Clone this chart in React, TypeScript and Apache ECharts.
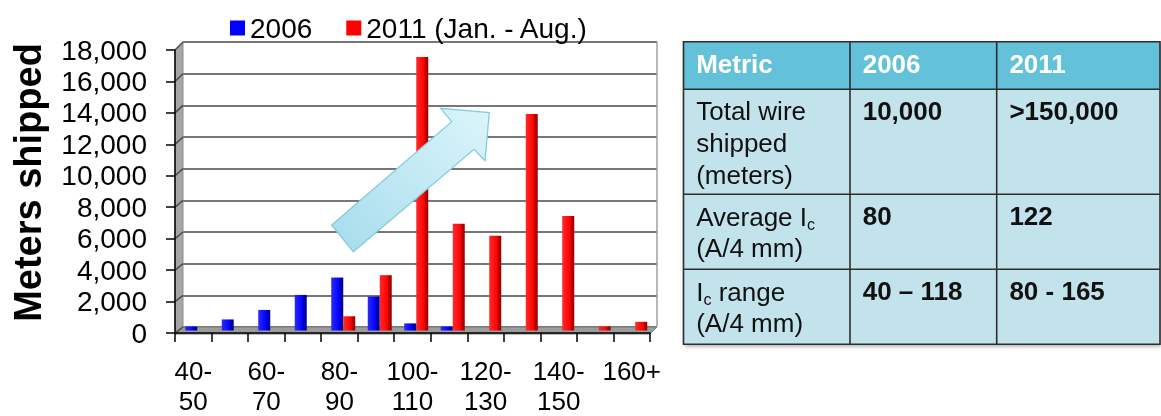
import React, { useEffect, useRef } from "react";
import * as echarts from "echarts";

const categories = ["40-50", "50-60", "60-70", "70-80", "80-90", "90-100", "100-110", "110-120", "120-130", "130-140", "140-150", "150-160", "160+"];
const series2006 = [250, 700, 1300, 2250, 3350, 2150, 450, 250, 0, 0, 0, 0, 0];
const series2011 = [0, 0, 0, 0, 900, 3500, 17300, 6750, 6000, 13700, 7250, 250, 550];
const seriesNames = ["2006", "2011 (Jan. - Aug.)"];
const yMin = 0;
const yMax = 18000;
const yInterval = 2000;
const yAxisTitle = "Meters shipped";

const tableHeader = ["Metric", "2006", "2011"];
const tableRowLabels = ["Total wire\nshipped\n(meters)", "Average I{sub|c}\n(A/4 mm)", "I{sub|c} range\n(A/4 mm)"];
const table2006 = ["10,000", "80", "40 \u2013 118"];
const table2011 = [">150,000", "122", "80 - 165"];

const FONT = "'Liberation Sans', Arial, Helvetica, sans-serif";

function barGradient(light: string, main: string, side: string, dark: string) {
  return new echarts.graphic.LinearGradient(0, 0, 1, 0, [
    { offset: 0, color: light },
    { offset: 0.68, color: main },
    { offset: 0.7, color: side },
    { offset: 1, color: dark },
  ]);
}

export default function App() {
  const ref = useRef<HTMLDivElement>(null);

  useEffect(() => {
    const chart = echarts.init(ref.current!, null, { renderer: "svg" });

    const option: any = {
      animation: false,
      textStyle: { fontFamily: FONT },
      legend: {
        data: [
          { name: seriesNames[0], itemStyle: { color: "#0000ff" } },
          { name: seriesNames[1], itemStyle: { color: "#ff0000" } },
        ],
        left: 225,
        top: 9,
        icon: "rect",
        itemWidth: 15,
        itemHeight: 15,
        itemGap: 34,
        selectedMode: false,
        textStyle: { fontSize: 28, color: "#000", fontFamily: FONT },
      },
      grid: [
        { left: 183, top: 42, width: 474, height: 285 },
        { left: 179, top: 46, width: 474.5, height: 284.5 },
        { left: 175, top: 50, width: 475, height: 284 },
      ],
      xAxis: [
        { gridIndex: 0, type: "category", data: categories, show: false },
        { gridIndex: 1, type: "category", data: categories, show: false },
        {
          gridIndex: 2,
          type: "category",
          data: categories,
          z: 5,
          axisLine: { lineStyle: { color: "#000", width: 1.5 } },
          axisTick: { show: true, interval: 0, length: 9, lineStyle: { color: "#000", width: 1.5 } },
          axisLabel: {
            interval: 1,
            margin: 23,
            fontSize: 26,
            lineHeight: 30,
            color: "#000",
            fontFamily: FONT,
            formatter: (v: string) => v.replace("-", "-\n"),
          },
        },
      ],
      yAxis: [
        {
          gridIndex: 0,
          type: "value",
          min: yMin,
          max: yMax,
          interval: yInterval,
          axisLabel: { show: false },
          axisLine: { show: false },
          axisTick: { show: false },
          splitLine: { show: true, lineStyle: { color: "#4a4a4a", width: 1.5 } },
        },
        { gridIndex: 1, type: "value", min: yMin, max: yMax, interval: yInterval, show: false, splitLine: { show: false } },
        {
          gridIndex: 2,
          type: "value",
          min: yMin,
          max: yMax,
          interval: yInterval,
          z: 5,
          splitLine: { show: false },
          axisLine: { show: true, lineStyle: { color: "#000", width: 1.5 } },
          axisTick: { show: true, length: 9, lineStyle: { color: "#000", width: 1.5 } },
          axisLabel: {
            margin: 28,
            fontSize: 28,
            color: "#000",
            fontFamily: FONT,
            formatter: (v: number) => v.toLocaleString("en-US"),
          },
        },
      ],
      series: [
        {
          name: seriesNames[0],
          type: "bar",
          xAxisIndex: 1,
          yAxisIndex: 1,
          data: series2006,
          barWidth: 12,
          barGap: "0%",
          z: 3,
          itemStyle: { color: barGradient("#2a2aff", "#0000ff", "#0000c0", "#000090") },
        },
        {
          name: seriesNames[1],
          type: "bar",
          xAxisIndex: 1,
          yAxisIndex: 1,
          data: series2011,
          barWidth: 12,
          barGap: "0%",
          z: 3,
          itemStyle: { color: barGradient("#ff2a2a", "#ff0000", "#c80000", "#9a0000") },
        },
      ],
    };

    chart.setOption(option);

    const ticks: number[] = [];
    for (let v = yMin; v <= yMax; v += yInterval) ticks.push(v);
    const wallLines = ticks.map((v) => {
      const yb = chart.convertToPixel({ yAxisIndex: 0 } as any, v) as unknown as number;
      const yf = chart.convertToPixel({ yAxisIndex: 2 } as any, v) as unknown as number;
      return {
        type: "line",
        z: 2,
        shape: { x1: 175, y1: yf, x2: 183, y2: yb },
        style: { stroke: "#4a4a4a", lineWidth: 1.5 },
      };
    });

    // table geometry
    const tx = [683.5, 850, 996.7, 1160];
    const ty = [41.7, 89.3, 194.3, 269.3, 344.3];
    const lineCol = "#2e2e2e";
    const tableEls: any[] = [
      {
        type: "rect",
        z: 10,
        shape: { x: tx[0], y: ty[0], width: tx[3] - tx[0], height: ty[4] - ty[0] },
        style: { fill: "#c2e3ec", shadowBlur: 4, shadowColor: "rgba(0,0,0,0.35)", shadowOffsetX: 1, shadowOffsetY: 2 },
      },
      {
        type: "rect",
        z: 10,
        shape: { x: tx[0], y: ty[0], width: tx[3] - tx[0], height: ty[1] - ty[0] },
        style: { fill: "#63c1da" },
      },
    ];
    [ty[1], ty[2], ty[3]].forEach((y) =>
      tableEls.push({ type: "line", z: 11, shape: { x1: tx[0], y1: y, x2: tx[3], y2: y }, style: { stroke: lineCol, lineWidth: 1.6 } })
    );
    [tx[1], tx[2]].forEach((x) =>
      tableEls.push({ type: "line", z: 11, shape: { x1: x, y1: ty[0], x2: x, y2: ty[4] }, style: { stroke: lineCol, lineWidth: 1.6 } })
    );
    tableEls.push({
      type: "rect",
      z: 11,
      shape: { x: tx[0], y: ty[0], width: tx[3] - tx[0], height: ty[4] - ty[0] },
      style: { fill: "none", stroke: lineCol, lineWidth: 1.6 },
    });
    tableHeader.forEach((h, i) =>
      tableEls.push({
        type: "text",
        z: 12,
        x: tx[i] + 12.7,
        y: 64,
        style: { text: h, fill: "#ffffff", font: `bold 26px ${FONT}`, verticalAlign: "middle", align: "left" },
      })
    );
    const rich = { sub: { fontSize: 16, fontFamily: FONT, fill: "#111", verticalAlign: "bottom", lineHeight: 32 } };
    tableRowLabels.forEach((lab, r) => {
      const top = ty[r + 1] + 6.3;
      tableEls.push({
        type: "text",
        z: 12,
        x: tx[0] + 12.7,
        y: top,
        style: { text: lab, fill: "#111", fontSize: 26, fontFamily: FONT, lineHeight: 31.7, verticalAlign: "top", align: "left", rich },
      });
      tableEls.push({
        type: "text",
        z: 12,
        x: tx[1] + 12.7,
        y: top,
        style: { text: table2006[r], fill: "#111", fontSize: 26, fontWeight: "bold", fontFamily: FONT, lineHeight: 31.7, verticalAlign: "top", align: "left" },
      });
      tableEls.push({
        type: "text",
        z: 12,
        x: tx[2] + 12.7,
        y: top,
        style: { text: table2011[r], fill: "#111", fontSize: 26, fontWeight: "bold", fontFamily: FONT, lineHeight: 31.7, verticalAlign: "top", align: "left" },
      });
    });

    const graphic: any[] = [
      // left wall
      {
        type: "polygon",
        z: 1,
        shape: { points: [[175, 50], [183, 42], [183, 327], [175, 334]] },
        style: { fill: "#a6a6a6", stroke: "#8c8c8c", lineWidth: 1 },
      },
      // floor
      {
        type: "polygon",
        z: 1,
        shape: { points: [[175, 334], [650, 334], [657, 327], [183, 327]] },
        style: { fill: "#9c9c9c", stroke: "#7a7a7a", lineWidth: 1 },
      },
      // back wall right edge
      {
        type: "line",
        z: 1,
        shape: { x1: 657, y1: 42, x2: 657, y2: 327 },
        style: { stroke: "#a0a0a0", lineWidth: 1.5 },
      },
      ...wallLines,
      // y axis title
      {
        type: "text",
        z: 6,
        x: 28,
        y: 182.5,
        rotation: Math.PI / 2,
        style: { text: yAxisTitle, fill: "#000", font: `bold 38px ${FONT}`, align: "center", verticalAlign: "middle" },
      },
      // arrow annotation
      {
        type: "polygon",
        z: 9,
        shape: {
          points: [
            [331.7, 225],
            [451.7, 121.7],
            [440.7, 108.3],
            [489.3, 112.7],
            [485, 160.7],
            [474, 149.3],
            [353.3, 251.7],
          ],
        },
        style: {
          fill: new echarts.graphic.LinearGradient(0, 1, 1, 0, [
            { offset: 0, color: "#a6dcec" },
            { offset: 1, color: "#dcf5fb" },
          ]),
          stroke: "#86cbdd",
          lineWidth: 1.3,
        },
      },
      ...tableEls,
    ];

    chart.setOption({ graphic });

    return () => chart.dispose();
  }, []);

  return <div ref={ref} style={{ position: "fixed", left: 0, top: 0, width: 1161, height: 416 }} />;
}
